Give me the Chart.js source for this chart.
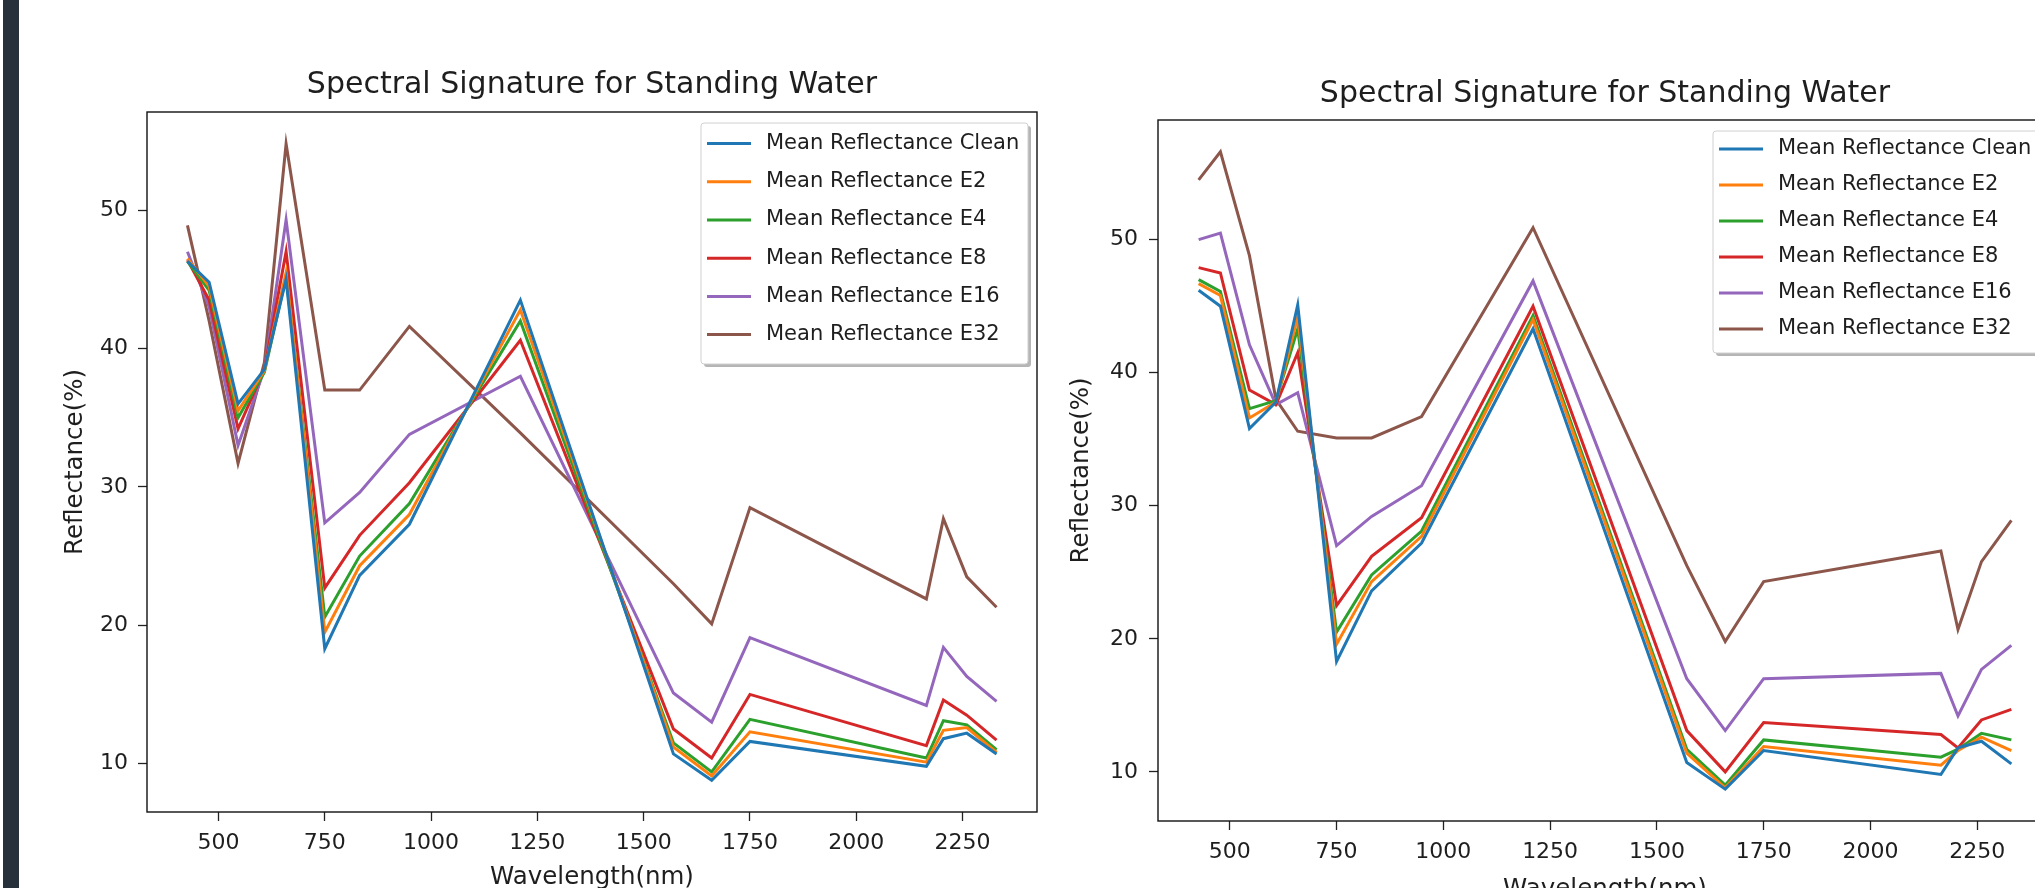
<!DOCTYPE html>
<html>
<head>
<meta charset="utf-8">
<script src="https://cdn.jsdelivr.net/npm/chart.js@4.4.0/dist/chart.umd.min.js"></script>
<style>
  html, body { margin: 0; padding: 0; background: #fff; overflow: hidden; width: 2035px; height: 888px; }
  #side { position: absolute; left: 3px; top: 0; width: 16px; height: 888px; background: #27313b; z-index: 2; }
  #wrapLeft { position: absolute; left: 0; top: 0; width: 1060px; height: 910px; }
  #wrapRight { position: absolute; left: 1060px; top: 0; width: 1040px; height: 910px; }
</style>
</head>
<body>
<div id="side"></div>
<div id="wrapLeft"><canvas id="chartLeft" width="1060" height="910"></canvas></div>
<div id="wrapRight"><canvas id="chartRight" width="1040" height="910"></canvas></div>
<script>
// wavelengths (nm) of the band centres
const wavelengths = [427, 478, 546, 608, 659, 750, 832, 949, 1210, 1570, 1660, 1750, 2165, 2205, 2260, 2330]
const seriesNames = ['Mean Reflectance Clean', 'Mean Reflectance E2', 'Mean Reflectance E4', 'Mean Reflectance E8', 'Mean Reflectance E16', 'Mean Reflectance E32']
const seriesColors = ['#1f77b4', '#ff7f0e', '#2ca02c', '#d62728', '#9467bd', '#8c564b']
const xTicks = [500, 750, 1000, 1250, 1500, 1750, 2000, 2250]
const yTicks = [10, 20, 30, 40, 50]

/* ---- left plot ---- */
const leftClean = [46.3, 44.8, 36.0, 38.5, 45.0, 18.3, 23.6, 27.3, 43.5, 10.7, 8.8, 11.6, 9.8, 11.8, 12.2, 10.7]
const leftE2    = [46.5, 44.5, 35.5, 38.4, 45.5, 19.5, 24.3, 28.0, 42.8, 11.2, 9.1, 12.3, 10.1, 12.4, 12.6, 10.8]
const leftE4    = [46.3, 44.2, 35.0, 38.3, 45.2, 20.6, 25.0, 28.8, 42.0, 11.5, 9.4, 13.2, 10.4, 13.1, 12.8, 11.0]
const leftE8    = [46.4, 43.5, 34.2, 38.5, 47.0, 22.7, 26.5, 30.3, 40.6, 12.5, 10.4, 15.0, 11.3, 14.6, 13.5, 11.7]
const leftE16   = [47.0, 43.0, 33.0, 38.5, 49.3, 27.4, 29.6, 33.8, 38.0, 15.1, 13.0, 19.1, 14.2, 18.4, 16.3, 14.5]
const leftE32   = [48.9, 42.0, 31.7, 39.0, 54.8, 37.0, 37.0, 41.6, 33.9, 23.0, 20.1, 28.5, 21.9, 27.7, 23.5, 21.3]

/* ---- right plot ---- */
const rightClean = [46.2, 45.0, 35.8, 37.8, 45.1, 18.3, 23.6, 27.2, 43.3, 10.7, 8.7, 11.6, 9.8, 11.8, 12.3, 10.6]
const rightE2    = [46.7, 45.8, 36.6, 37.8, 44.2, 19.6, 24.3, 27.7, 44.0, 11.4, 8.8, 11.9, 10.5, 11.6, 12.6, 11.6]
const rightE4    = [47.0, 46.1, 37.3, 37.9, 43.3, 20.5, 24.8, 28.1, 44.3, 11.7, 9.0, 12.4, 11.1, 11.7, 12.9, 12.4]
const rightE8    = [47.9, 47.5, 38.7, 37.6, 41.5, 22.5, 26.2, 29.1, 45.0, 13.1, 10.0, 13.7, 12.8, 11.8, 13.9, 14.7]
const rightE16   = [50.0, 50.5, 42.1, 37.6, 38.5, 27.0, 29.2, 31.5, 46.9, 17.0, 13.1, 17.0, 17.4, 14.2, 17.7, 19.5]
const rightE32   = [54.5, 56.6, 48.8, 38.0, 35.6, 35.1, 35.1, 36.7, 50.9, 25.5, 19.8, 24.3, 26.6, 20.7, 25.8, 28.9]

const FONT = 'DejaVu Sans'
const INK = '#1e1e1e'

// the black box round the plot area
const spines = {
  id: 'spines',
  afterDatasetsDraw(chart) {
    const a = chart.chartArea
    const ctx = chart.ctx
    ctx.save()
    ctx.strokeStyle = '#111'
    ctx.lineWidth = 1.4
    ctx.strokeRect(a.left, a.top, a.right - a.left, a.bottom - a.top)
    ctx.restore()
  }
}

// matplotlib style legend with a shadow, in the upper right corner
const boxLegend = {
  id: 'boxLegend',
  afterDraw(chart, args, o) {
    const a = chart.chartArea
    const ctx = chart.ctx
    const x = a.right - o.gapRight - o.width
    const y = a.top + o.gapTop
    ctx.save()
    ctx.fillStyle = 'rgba(120,120,120,0.55)'
    ctx.beginPath()
    ctx.roundRect(x + 3, y + 3, o.width, o.height, 3)
    ctx.fill()
    ctx.fillStyle = '#fff'
    ctx.strokeStyle = '#d0d0d0'
    ctx.lineWidth = 1
    ctx.beginPath()
    ctx.roundRect(x, y, o.width, o.height, 3)
    ctx.fill()
    ctx.stroke()
    ctx.font = o.fontSize + 'px "' + FONT + '"'
    ctx.textBaseline = 'middle'
    ctx.fillStyle = INK
    chart.data.datasets.forEach((ds, i) => {
      const ry = y + o.firstRow + i * o.rowGap
      ctx.strokeStyle = ds.borderColor
      ctx.lineWidth = 3
      ctx.beginPath()
      ctx.moveTo(x + 6, ry)
      ctx.lineTo(x + 50, ry)
      ctx.stroke()
      ctx.fillText(ds.label, x + 65, ry)
    })
    ctx.restore()
  }
}

function padRange(vals) {
  // same 5% margins matplotlib puts round the data
  const lo = Math.min(...vals), hi = Math.max(...vals)
  const m = (hi - lo) * 0.05
  return [lo - m, hi + m]
}

function makeChart(id, series, lay) {
  const allY = [].concat(...series)
  const [xMin, xMax] = padRange(wavelengths)
  const [yMin, yMax] = padRange(allY)
  const datasets = series.map((vals, i) => ({
    label: seriesNames[i],
    data: wavelengths.map((w, k) => ({ x: w, y: vals[k] })),
    borderColor: seriesColors[i],
    backgroundColor: seriesColors[i],
    borderWidth: 3,
    pointRadius: 0,
    tension: 0,
    fill: false
  }))
  const tickGrid = { display: true, drawOnChartArea: false, drawTicks: true, tickLength: 9, tickColor: '#222', tickWidth: 1.3 }
  return new Chart(document.getElementById(id), {
    type: 'line',
    data: { datasets: datasets },
    plugins: [spines, boxLegend],
    options: {
      responsive: false,
      animation: false,
      layout: { padding: lay.padding },
      plugins: {
        legend: { display: false },
        tooltip: { enabled: false },
        title: {
          display: true,
          fullSize: false,
          text: 'Spectral Signature for Standing Water',
          color: INK,
          font: { family: FONT, size: 30, weight: 'normal', lineHeight: 1.2 },
          padding: { top: 0, bottom: lay.titleGap }
        },
        boxLegend: lay.legend
      },
      scales: {
        x: {
          type: 'linear',
          min: xMin,
          max: xMax,
          afterBuildTicks: (s) => { s.ticks = xTicks.map(v => ({ value: v })) },
          afterFit: (s) => { s.height = lay.xHeight },
          grid: tickGrid,
          border: { display: false },
          ticks: { color: INK, font: { family: FONT, size: 22 }, padding: 9, maxRotation: 0, callback: (v) => String(v) },
          title: { display: true, text: 'Wavelength(nm)', color: INK, font: { family: FONT, size: 24.5 }, padding: { top: 0, bottom: lay.xTitleGap } }
        },
        y: {
          type: 'linear',
          min: yMin,
          max: yMax,
          afterBuildTicks: (s) => { s.ticks = yTicks.map(v => ({ value: v })) },
          afterFit: (s) => { s.width = lay.yWidth },
          grid: tickGrid,
          border: { display: false },
          ticks: { color: INK, font: { family: FONT, size: 22 }, padding: lay.yPad, callback: (v) => String(v) },
          title: { display: true, text: 'Reflectance(%)', color: INK, font: { family: FONT, size: 24.5 }, padding: { top: lay.yTitleGap, bottom: 0 } }
        }
      }
    }
  })
}

makeChart('chartLeft', [leftClean, leftE2, leftE4, leftE8, leftE16, leftE32], {
  padding: { top: 67, left: 50, right: 23, bottom: 0 },
  titleGap: 9,
  xHeight: 98,
  xTitleGap: 18,
  yWidth: 97,
  yPad: 10,
  yTitleGap: 11,
  legend: { width: 327, height: 241, gapRight: 9, gapTop: 11, firstRow: 20.6, rowGap: 38.2, fontSize: 21 }
})

makeChart('chartRight', [rightClean, rightE2, rightE4, rightE8, rightE16, rightE32], {
  padding: { top: 76, left: 0, right: 48, bottom: 0 },
  titleGap: 8,
  xHeight: 89,
  xTitleGap: 6,
  yWidth: 98,
  yPad: 11,
  yTitleGap: 7,
  legend: { width: 327, height: 222, gapRight: 12, gapTop: 11, firstRow: 18, rowGap: 36, fontSize: 21 }
})
</script>
</body>
</html>
